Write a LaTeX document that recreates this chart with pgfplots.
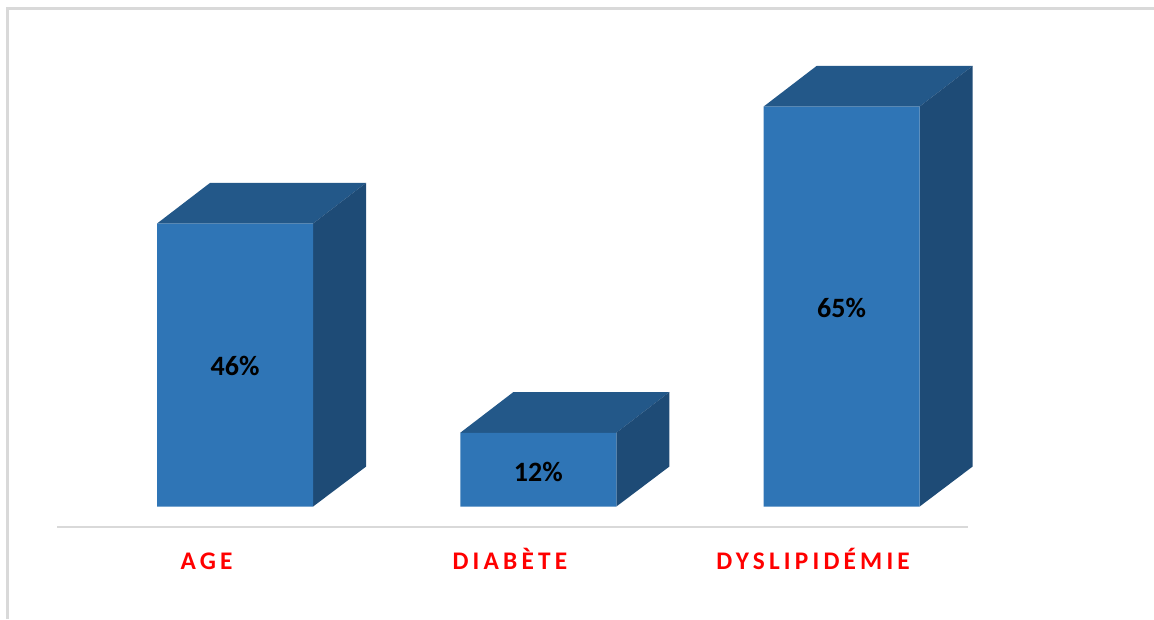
\documentclass[border=0pt]{standalone}
\usepackage{fontspec}
\setmainfont{Carlito}
\newfontfamily\catfont[LetterSpace=16.5]{Carlito}
\usepackage{pgfplots}
\pgfplotsset{compat=1.18}
\definecolor{barfront}{HTML}{2F75B6}
\definecolor{bartop}{HTML}{235889}
\definecolor{barside}{HTML}{1E4B76}
\definecolor{rulegray}{HTML}{D9D9D9}
\begin{document}
\begin{tikzpicture}
\useasboundingbox (-42.75pt,-69.3pt) rectangle (822.75pt,394.95pt);
\begin{axis}[
  scale only axis,
  width=683.25pt, height=345pt,
  xmin=-0.587, xmax=2.417, ymin=-3.25, ymax=71.5,
  clip=false,
  axis x line=bottom,
  axis y line=none,
  axis line style={draw=rulegray, line width=1.4pt, -},
  xtick={0,1,2},
  xticklabels={AGE,DIABÈTE,DYSLIPIDÉMIE},
  major tick length=0pt,
  xticklabel style={text=red, font=\catfont\bfseries\fontsize{19}{22}\selectfont,
    anchor=base, xshift=-21.3pt, yshift=-31.8pt},
]
  % top faces of the boxes
  \addplot[fill=bartop, draw=none] coordinates {(-0.2572,46) (-0.0824,52.6) (0.4320,52.6) (0.2572,46)} --cycle;
  \addplot[fill=bartop, draw=none] coordinates {(0.7428,12) (0.9176,18.6) (1.4320,18.6) (1.2572,12)} --cycle;
  \addplot[fill=bartop, draw=none] coordinates {(1.7428,65) (1.9176,71.6) (2.4320,71.6) (2.2572,65)} --cycle;
  % side faces of the boxes
  \addplot[fill=barside, draw=none] coordinates {(0.2572,0) (0.4320,6.5) (0.4320,52.6) (0.2572,46)} --cycle;
  \addplot[fill=barside, draw=none] coordinates {(1.2572,0) (1.4320,6.5) (1.4320,18.6) (1.2572,12)} --cycle;
  \addplot[fill=barside, draw=none] coordinates {(2.2572,0) (2.4320,6.5) (2.4320,71.6) (2.2572,65)} --cycle;
  % front faces
  \addplot[ybar, bar width=117pt, fill=barfront, draw=none] coordinates {(0,46) (1,12) (2,65)};
  \node[font=\bfseries\fontsize{21}{24}\selectfont] at (axis cs:0,22.9) {46\%};
  \node[font=\bfseries\fontsize{21}{24}\selectfont] at (axis cs:1,5.7) {12\%};
  \node[font=\bfseries\fontsize{21}{24}\selectfont] at (axis cs:2,32.2) {65\%};
\end{axis}
% page border along the top and left
\draw[rulegray, line width=1.95pt] (-37.2pt,-69.3pt) -- (-37.2pt,388.6pt) -- (822.75pt,388.6pt);
\end{tikzpicture}
\end{document}
